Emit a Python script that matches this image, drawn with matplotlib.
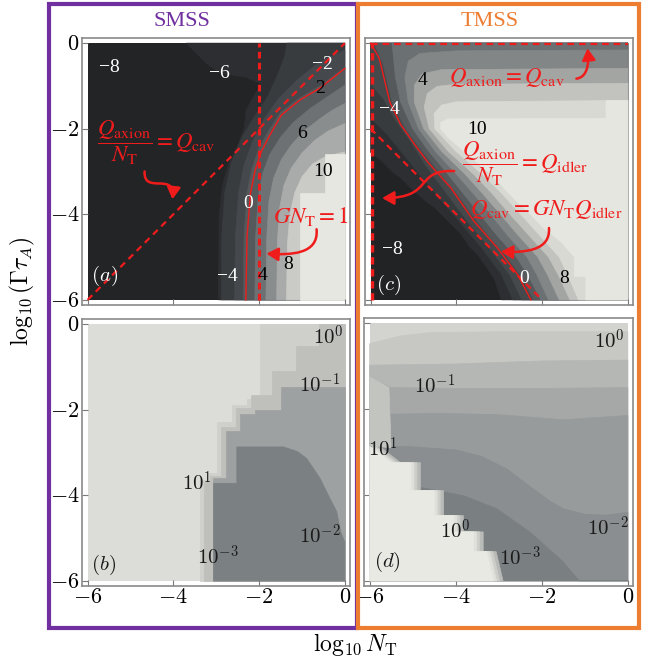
import matplotlib
matplotlib.use("Agg")
import matplotlib.pyplot as plt
from matplotlib.patches import Rectangle, FancyArrowPatch
from matplotlib.path import Path

plt.rcParams["mathtext.fontset"] = "cm"
plt.rcParams["font.family"] = ["Liberation Serif", "DejaVu Serif"]

W, H = 667, 658
RED = "#f01c1c"
PURPLE = "#7030a0"
ORANGE = "#ed7d31"

# ---------------------------------------------------------------------------
# Panel (a): SMSS, log10 gain.  Each edge is a contour boundary running from
# the bottom edge of the map to the top or right edge (log10 N_T, log10 Gamma tau_A).
A_BASE = "#232426"
A_EDGE_1 = [(-2.95, -6), (-2.93, -4.0), (-2.85, -3.3), (-2.7, -2.8), (-2.5, -2.4), (-2.35, -2.0),
            (-2.3, -1.55), (-2.1, -1.2), (-1.95, -0.95), (-2.3, -0.8), (-2.9, -0.7), (-3.2, -0.5),
            (-3.5, -0.2), (-3.7, 0)]
A_EDGE_2 = [(-2.88, -6), (-2.87, -4.5), (-2.8, -3.5), (-2.65, -2.8), (-2.4, -2.2), (-2.1, -1.7),
            (-1.8, -1.25), (-1.55, -0.7), (-1.4, -0.3), (-1.35, 0)]
A_EDGE_3 = [(-2.57, -6), (-2.55, -4.5), (-2.48, -3.5), (-2.35, -2.85), (-2.15, -2.3), (-1.9, -1.8),
            (-1.55, -1.3), (-1.1, -0.85), (-0.6, -0.45), (0, -0.16)]
A_EDGE_4 = [(-2.37, -6), (-2.35, -4.5), (-2.28, -3.5), (-2.17, -2.95), (-2.0, -2.45), (-1.78, -2.05),
            (-1.5, -1.62), (-1.05, -1.28), (-0.55, -0.98), (0, -0.57)]
A_EDGE_5 = [(-2.10, -6), (-2.08, -4.5), (-2.02, -3.6), (-1.92, -3.05), (-1.75, -2.6), (-1.5, -2.2),
            (-1.2, -1.85), (-0.8, -1.52), (-0.4, -1.25), (0, -0.98)]
A_EDGE_6 = [(-1.84, -6), (-1.82, -4.5), (-1.77, -3.7), (-1.66, -3.15), (-1.48, -2.72), (-1.25, -2.38),
            (-0.95, -2.05), (-0.6, -1.78), (-0.3, -1.57), (0, -1.41)]
A_EDGE_7 = [(-1.59, -6), (-1.57, -4.6), (-1.52, -3.85), (-1.42, -3.32), (-1.25, -2.92), (-1.0, -2.57),
            (-0.7, -2.27), (-0.4, -2.06), (0, -1.88)]
A_EDGE_8 = [(-1.36, -6), (-1.34, -4.7), (-1.28, -4.0), (-1.17, -3.5), (-1.0, -3.12), (-0.75, -2.82),
            (-0.45, -2.65), (0, -2.54)]
A_EDGE_9 = [(-1.05, -6), (-1.05, -3.5), (-0.47, -3.5), (-0.47, -2.6), (0, -2.6)]
A_EDGES = [A_EDGE_1, A_EDGE_2, A_EDGE_3, A_EDGE_4, A_EDGE_5, A_EDGE_6, A_EDGE_7, A_EDGE_8, A_EDGE_9]
A_COLORS = ["#2c2e31", "#393c3f", "#45494d", "#55595c", "#6d7173", "#8a8d8e", "#a9abaa", "#cacbc6", "#e6e7e0"]
A_ZERO = [(-2.31, -6), (-2.28, -4.5), (-2.2, -3.5), (-2.1, -3.0), (-1.95, -2.54), (-1.75, -2.15),
          (-1.48, -1.68), (-1.05, -1.33), (-0.58, -1.05), (0, -0.59)]
A_LABELS = ["\u22128", "\u22126", "\u22122", "2", "6", "10", "0", "\u22124", "4", "8"]
A_LABEL_XY = [(-5.49, -0.56), (-2.92, -0.70), (-0.52, -0.5), (-0.58, -1.05), (-1.01, -2.11),
              (-0.51, -3.01), (-2.26, -3.74), (-2.73, -5.46), (-1.91, -5.42), (-1.33, -5.18)]
A_LABEL_WHITE = [True, True, True, False, False, False, True, True, False, False]

# Panel (c): TMSS, log10 gain
C_BASE = "#222325"
C_EDGE_0 = [(-2.95, -6), (-3.1, -5.55), (-3.25, -5.3), (-3.5, -4.95), (-3.7, -4.75), (-3.9, -4.45),
            (-4.2, -4.15), (-4.5, -3.85), (-4.7, -3.7), (-5.0, -3.45), (-5.3, -3.15), (-5.5, -3.0),
            (-5.75, -2.75), (-6, -2.55)]
C_EDGE_1 = [(-2.68, -6), (-2.95, -5.4), (-3.4, -4.8), (-3.9, -4.2), (-4.4, -3.62), (-4.85, -3.08),
            (-5.25, -2.58), (-5.6, -2.15), (-6, -1.75)]
C_EDGE_2 = [(-2.47, -6), (-2.75, -5.42), (-3.22, -4.8), (-3.75, -4.15), (-4.25, -3.48), (-4.7, -2.88),
            (-5.1, -2.25), (-5.45, -1.75), (-5.7, -1.3), (-6, -0.95)]
C_EDGE_3 = [(-2.2, -6), (-2.5, -5.42), (-2.82, -5.0), (-3.25, -4.5), (-3.64, -4.0), (-4.0, -3.5),
            (-4.37, -3.06), (-4.8, -2.52), (-5.18, -2.0), (-5.5, -1.38), (-5.62, -0.85), (-5.72, -0.45),
            (-5.85, -0.15), (-5.92, 0)]
C_EDGE_4 = [(-2.03, -6), (-2.33, -5.42), (-2.6, -5.0), (-3.05, -4.5), (-3.45, -4.0), (-3.85, -3.5),
            (-4.2, -3.06), (-4.65, -2.52), (-5.02, -2.0), (-5.3, -1.38), (-5.42, -0.8), (-5.47, -0.3),
            (-5.5, 0)]
C_EDGE_5 = [(-1.85, -6), (-2.12, -5.42), (-2.35, -5.0), (-2.8, -4.5), (-3.2, -4.0), (-3.62, -3.5),
            (-4.0, -3.06), (-4.5, -2.52), (-4.88, -2.0), (-5.12, -1.38), (-5.2, -0.8), (-5.12, -0.42),
            (-4.85, -0.24), (-4.0, -0.18), (0, -0.16)]
C_EDGE_6 = [(-1.6, -6), (-1.87, -5.42), (-2.1, -5.0), (-2.55, -4.5), (-2.97, -4.0), (-3.4, -3.5),
            (-3.8, -3.06), (-4.35, -2.52), (-4.76, -2.0), (-4.98, -1.38), (-4.98, -0.98), (-4.8, -0.72),
            (-4.35, -0.62), (0, -0.59)]
C_EDGE_7 = [(-1.35, -6), (-1.62, -5.42), (-1.85, -5.0), (-2.3, -4.5), (-2.75, -4.0), (-3.18, -3.5),
            (-3.6, -3.06), (-4.2, -2.52), (-4.63, -2.0), (-4.75, -1.5), (-4.68, -1.18), (-4.45, -1.01),
            (-4.0, -0.96), (0, -0.94)]
C_EDGE_8 = [(-1.15, -6), (-1.4, -5.42), (-1.6, -5.0), (-2.05, -4.5), (-2.5, -4.0), (-2.95, -3.5),
            (-3.4, -3.06), (-4.02, -2.52), (-4.5, -2.0), (-4.52, -1.65), (-4.35, -1.45), (-4.0, -1.37),
            (0, -1.34)]
C_EDGE_9 = [(-0.98, -6), (-0.98, -5.45), (-1.25, -5.45), (-1.25, -5.0), (-1.55, -4.65), (-1.96, -4.33),
            (-2.27, -4.0), (-2.6, -3.69), (-3.2, -3.06), (-3.83, -2.52), (-4.2, -2.2), (-4.37, -2.0),
            (-4.37, -1.86), (-4.2, -1.77), (-0.51, -1.76), (-0.51, -1.34), (0, -1.34)]
C_EDGES = [C_EDGE_0, C_EDGE_1, C_EDGE_2, C_EDGE_3, C_EDGE_4, C_EDGE_5, C_EDGE_6, C_EDGE_7, C_EDGE_8, C_EDGE_9]
C_COLORS = ["#2c2e31", "#383b3e", "#45494c", "#55595c", "#6b7072", "#828687", "#a3a5a3", "#c2c3bf",
            "#d8d9d3", "#e5e6df"]
C_ZERO = [(-6, 0), (-5.8, -0.35), (-5.69, -0.8), (-5.55, -1.38), (-5.3, -1.9), (-4.95, -2.4),
          (-4.65, -2.8), (-4.13, -3.38), (-3.59, -4.16), (-3.04, -4.79), (-2.57, -5.41), (-2.26, -6)]
C_LABELS = ["4", "\u22124", "10", "\u22128", "0", "8"]
C_LABEL_XY = [(-4.79, -0.87), (-5.55, -1.55), (-3.51, -2.01), (-5.49, -4.82), (-2.43, -5.5), (-1.49, -5.5)]
C_LABEL_WHITE = [False, True, False, True, True, False]

# Panel (b): SMSS, relative sensitivity.  Stair edges run top -> bottom,
# band edges run right edge -> bottom.
B_BASE = "#dcddd8"
B_STAIR_1 = [(-1.98, 0), (-1.98, -1.74), (-2.29, -1.74), (-2.29, -1.90), (-2.64, -1.90), (-2.64, -2.29),
             (-2.98, -2.29), (-2.98, -3.49), (-3.22, -3.49), (-3.22, -3.64), (-3.37, -3.64), (-3.37, -6)]
B_STAIR_2 = [(-0.6, 0), (-0.6, -0.5), (-1.15, -0.5), (-1.15, -1.1), (-1.7, -1.1), (-1.7, -1.65),
             (-2.2, -1.65), (-2.2, -1.95), (-2.55, -1.95), (-2.55, -2.4), (-2.88, -2.4), (-2.88, -3.55),
             (-3.15, -3.55), (-3.15, -3.7), (-3.28, -3.7), (-3.28, -6)]
B_BAND_3 = [(0, -1.47), (-1.5, -1.47), (-1.5, -2.0), (-2.1, -2.0), (-2.1, -2.1), (-2.45, -2.1),
            (-2.45, -2.5), (-2.78, -2.5), (-2.78, -3.6), (-3.08, -3.6), (-3.08, -6)]
B_BAND_4 = [(0, -5.1), (-0.1, -4.84), (-0.19, -4.38), (-0.35, -4.07), (-0.58, -3.6), (-0.89, -3.14),
            (-1.1, -2.98), (-1.43, -2.87), (-2.52, -2.87), (-2.52, -3.72), (-3.06, -3.72), (-3.06, -6)]
B_COLORS = ["#cfd0cb", "#bfc0bc", "#9ea1a1", "#7b8083"]
B_LABELS = [r"$10^{0}$", r"$10^{-1}$", r"$10^{1}$", r"$10^{-3}$", r"$10^{-2}$"]
B_LABEL_XY = [(-0.39, -0.31), (-0.58, -1.45), (-3.45, -3.72), (-2.95, -5.47), (-0.58, -4.96)]

# Panel (d): TMSS, relative sensitivity.  Band edges run left edge -> right edge.
D_BASE = "#d3d4cf"
D_BAND_1 = [(-6, -0.48), (-5.3, -0.3), (-4.6, -0.22), (-3, -0.2), (0, -0.2)]
D_BAND_2 = [(-6, -0.98), (-4, -0.95), (-2, -0.88), (0, -0.86)]
D_BAND_3 = [(-6, -1.28), (-5.5, -1.5), (-4, -1.52), (-2, -1.52), (0, -1.5)]
D_BAND_4 = [(-6, -2.13), (-4.5, -2.1), (-3, -2.13), (-1.5, -2.25), (0, -2.15)]
D_BAND_5 = [(-6, -2.86), (-5, -2.88), (-4, -2.95), (-3.4, -3.1), (-2.8, -3.4), (-2.3, -3.78), (-1.8, -4.15),
            (-1.5, -4.32), (-1.0, -4.45), (-0.5, -4.47), (0, -4.4)]
D_BAND_6 = [(-6, -3.78), (-5.04, -3.78), (-3.81, -4.02), (-3.05, -4.32), (-2.28, -4.86), (-1.51, -5.55),
            (-1.13, -6)]
D_BANDS = [D_BAND_1, D_BAND_2, D_BAND_3, D_BAND_4, D_BAND_5, D_BAND_6]
D_COLORS = ["#c7c8c3", "#b5b7b4", "#a5a8a7", "#989b9c", "#8a8e90", "#7a7f82"]
D_WHITE_STAIR = [(-6, -2.86), (-5.5, -3.25), (-5.04, -3.25), (-5.04, -3.9), (-4.5, -3.9), (-4.5, -4.48),
                 (-4.04, -4.48), (-4.04, -4.86), (-3.58, -4.86), (-3.58, -5.32), (-3.28, -5.32), (-3.12, -6)]
D_STRIP = [(-6, -1.25), (-5.55, -1.5), (-5.5, -2.9), (-6, -2.86)]
D_LABELS = [r"$10^{0}$", r"$10^{-1}$", r"$10^{1}$", r"$10^{0}$", r"$10^{-3}$", r"$10^{-2}$"]
D_LABEL_XY = [(-0.44, -0.44), (-4.5, -1.48), (-5.69, -2.94), (-4.0, -4.86), (-2.51, -5.48), (-0.47, -4.78)]

TICKS = [-6, -4, -2, 0]
TICK_TEXT = [r"$-6$", r"$-4$", r"$-2$", r"$0$"]

fig = plt.figure(figsize=(W / 100, H / 100), dpi=100)


def make_axes(x0, y0, x1, y1, xlab, ylab):
    ax = fig.add_axes([x0 / W, 1 - y1 / H, (x1 - x0) / W, (y1 - y0) / H])
    ax.set_xlim(-6.13, 0.12)
    ax.set_ylim(-6.12, 0.12)
    ax.set_xticks(TICKS)
    ax.set_yticks(TICKS)
    ax.set_xticklabels(TICK_TEXT if xlab else [])
    ax.set_yticklabels(TICK_TEXT if ylab else [])
    ax.tick_params(direction="in", length=4, width=0.8, color="#7a7a7a", labelsize=16, pad=2)
    for s in ax.spines.values():
        s.set_color("#8a8a8a")
        s.set_linewidth(1.2)
    return ax


def close_from_bottom(edge):
    """Region right of an edge that starts on the bottom of the map."""
    x, y = edge[-1]
    if abs(x + 6) < 1e-9:
        tail = [(-6, 0), (0, 0), (0, -6)]
    elif abs(y) < 1e-9:
        tail = [(0, 0), (0, -6)]
    else:
        tail = [(0, -6)]
    return list(edge) + tail


def fill(ax, pts, color, z=1):
    xs = [p[0] for p in pts]
    ys = [p[1] for p in pts]
    ax.fill(xs, ys, color=color, lw=0.5, ec=color, zorder=z)


def line(ax, pts, **kw):
    ax.plot([p[0] for p in pts], [p[1] for p in pts], **kw)


def base(ax, color):
    ax.add_patch(Rectangle((-6, -6), 6, 6, color=color, lw=0, zorder=0))


def curved_arrow(ax, verts, lw=1.8):
    codes = [Path.MOVETO] + [Path.CURVE4] * (len(verts) - 1)
    arr = FancyArrowPatch(path=Path(verts, codes), arrowstyle="-|>,head_length=0.7,head_width=0.4",
                          mutation_scale=10, lw=lw, color=RED, zorder=8)
    ax.add_patch(arr)


def contour_labels(ax, labels, xy, white):
    for s, (x, y), w in zip(labels, xy, white):
        ax.text(x, y, s, color="white" if w else "black", fontsize=14, ha="center", va="center",
                family="Liberation Serif", zorder=7)


def math_labels(ax, labels, xy):
    for s, (x, y) in zip(labels, xy):
        ax.text(x, y, s, color="#1a1a1a", fontsize=15, ha="center", va="center", zorder=7)


red_kw = dict(color=RED, fontsize=16.5, math_fontfamily="stix", zorder=9)

# ---------------- panel (a) ----------------
axa = make_axes(82, 38, 350, 305, False, True)
base(axa, A_BASE)
for e, c in zip(A_EDGES, A_COLORS):
    fill(axa, close_from_bottom(e), c)
line(axa, A_ZERO, color=RED, lw=1.0, zorder=5)
axa.plot([-2, -2], [-6, 0], color=RED, lw=2.2, ls=(0, (2.2, 1.4)), zorder=6)
axa.plot([-6, 0], [-6, 0], color=RED, lw=1.6, ls=(0, (3, 2.2)), zorder=6)
contour_labels(axa, A_LABELS, A_LABEL_XY, A_LABEL_WHITE)
axa.text(-5.6, -5.44, r"$(a)$", color="white", fontsize=15, ha="center", va="center", zorder=7)
axa.text(-4.4, -2.33, r"$\dfrac{Q_{\mathrm{axion}}}{N_{\mathrm{T}}} = Q_{\mathrm{cav}}$",
         ha="center", va="center", **red_kw)
axa.text(-0.8, -4.06, r"$GN_{\mathrm{T}} = 1$", ha="center", va="center", **red_kw)
curved_arrow(axa, [(-4.67, -3.0), (-4.7, -3.55), (-3.95, -3.0), (-4.02, -3.65)])
curved_arrow(axa, [(-0.66, -4.35), (-0.6, -4.95), (-1.3, -4.95), (-1.83, -4.92)])

# ---------------- panel (c) ----------------
axc = make_axes(365, 38, 633, 305, False, False)
base(axc, C_BASE)
for e, c in zip(C_EDGES, C_COLORS):
    fill(axc, close_from_bottom(e), c)
line(axc, C_ZERO, color=RED, lw=1.0, zorder=5)
axc.plot([-6, -2], [-2, -6], color=RED, lw=1.6, ls=(0, (3, 2.2)), zorder=6)
axc.plot([-5.96, -5.96], [-6, 0], color=RED, lw=2.4, ls=(0, (2.2, 1.4)), zorder=6)
axc.plot([-6, 0], [-0.03, -0.03], color=RED, lw=1.6, ls=(0, (3, 2.2)), zorder=6)
contour_labels(axc, C_LABELS, C_LABEL_XY, C_LABEL_WHITE)
axc.text(-5.57, -5.65, r"$(c)$", color="white", fontsize=15, ha="center", va="center", zorder=7)
axc.text(-2.82, -0.8, r"$Q_{\mathrm{axion}} = Q_{\mathrm{cav}}$", ha="center", va="center", **red_kw)
axc.text(-2.4, -2.82, r"$\dfrac{Q_{\mathrm{axion}}}{N_{\mathrm{T}}} = Q_{\mathrm{idler}}$",
         ha="center", va="center", **red_kw)
axc.text(-1.9, -3.88, r"$Q_{\mathrm{cav}} = GN_{\mathrm{T}}Q_{\mathrm{idler}}$", ha="center", va="center",
         **red_kw)
curved_arrow(axc, [(-1.2, -0.83), (-0.95, -0.8), (-0.9, -0.5), (-0.94, -0.12)])
curved_arrow(axc, [(-4.05, -2.99), (-5.0, -2.95), (-4.5, -3.62), (-5.73, -3.62)])
curved_arrow(axc, [(-1.84, -4.32), (-1.8, -4.85), (-2.4, -4.9), (-2.96, -4.87)])

# ---------------- panel (b) ----------------
axb = make_axes(82, 319, 350, 586, True, True)
base(axb, B_BASE)
fill(axb, B_STAIR_1 + [(0, -6), (0, 0)], B_COLORS[0])
fill(axb, B_STAIR_2 + [(0, -6), (0, 0)], B_COLORS[1])
fill(axb, B_BAND_3 + [(0, -6)], B_COLORS[2])
fill(axb, B_BAND_4 + [(0, -6)], B_COLORS[3])
math_labels(axb, B_LABELS, B_LABEL_XY)
axb.text(-5.63, -5.62, r"$(b)$", color="#1a1a1a", fontsize=15, ha="center", va="center", zorder=7)

# ---------------- panel (d) ----------------
axd = make_axes(364, 318, 633, 586, True, False)
base(axd, D_BASE)
for e, c in zip(D_BANDS, D_COLORS):
    fill(axd, list(e) + [(0, -6), (-6, -6)], c)
# soft edge of the low-gain corner
for dx, c in [(0.22, "#b9bbb8"), (0.14, "#cdcec9"), (0.07, "#dfe0da"), (0.0, "#e8e9e3")]:
    fill(axd, [(x + dx, y) for x, y in D_WHITE_STAIR] + [(-6, -6)], c, z=2)
fill(axd, D_STRIP, "#c2c4c0", z=2)
math_labels(axd, D_LABELS, D_LABEL_XY)
axd.text(-5.58, -5.55, r"$(d)$", color="#1a1a1a", fontsize=15, ha="center", va="center", zorder=7)

# ---------------- frame boxes and titles ----------------
fig.add_artist(Rectangle((48.5 / W, 1 - 627.5 / H), (357 - 48.5) / W, (627.5 - 3.5) / H,
                         transform=fig.transFigure, fill=False, ec=PURPLE, lw=3.0))
fig.add_artist(Rectangle((357.5 / W, 1 - 627.5 / H), (639 - 357.5) / W, (627.5 - 4) / H,
                         transform=fig.transFigure, fill=False, ec=ORANGE, lw=3.0))
fig.text(182 / W, 1 - 22 / H, "SMSS", color=PURPLE, fontsize=16, ha="center", va="center")
fig.text(490 / W, 1 - 22 / H, "TMSS", color=ORANGE, fontsize=16, ha="center", va="center")
fig.text(22 / W, 1 - 291 / H, r"$\log_{10}(\Gamma\tau_A)$", rotation=90, fontsize=17,
         ha="center", va="center")
fig.text(355 / W, 1 - 644 / H, r"$\log_{10}N_{\mathrm{T}}$", fontsize=17, ha="center", va="center")

fig.savefig("out.png", dpi=100)
